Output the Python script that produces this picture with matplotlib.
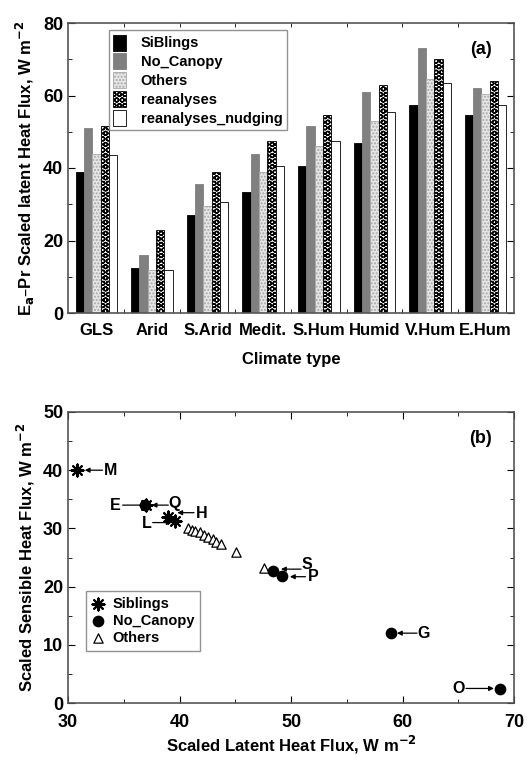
import matplotlib
matplotlib.use("Agg")
import matplotlib.pyplot as plt
import numpy as np

plt.rcParams['font.family'] = ['Liberation Sans', 'DejaVu Sans']
plt.rcParams['font.weight'] = 'bold'
plt.rcParams['hatch.linewidth'] = 1.0

# ---------------- Panel (a) data ----------------
climates = ["GLS", "Arid", "S.Arid", "Medit.", "S.Hum", "Humid", "V.Hum", "E.Hum"]
siblings = [39, 12.5, 27, 33.5, 40.5, 47, 57.5, 54.5]
no_canopy = [51, 16, 35.5, 44, 51.5, 61, 73, 62]
others = [44, 12, 29.5, 39, 46, 53, 64.5, 60.5]
reanalyses = [51.5, 23, 39, 47.5, 54.5, 63, 70, 64]
reanalyses_nudging = [43.5, 12, 30.5, 40.5, 47.5, 55.5, 63.5, 57.5]
series_names = ["SiBlings", "No_Canopy", "Others", "reanalyses", "reanalyses_nudging"]

# ---------------- Panel (b) data ----------------
sib_x = [30.8, 37.0, 39.0, 39.6]
sib_y = [40.1, 34.0, 32.0, 31.3]
noc_x = [36.9, 48.4, 49.2, 59.0, 68.7]
noc_y = [34.0, 22.7, 21.8, 12.0, 2.4]
oth_x = [40.8, 41.1, 41.4, 41.8, 42.2, 42.6, 43.0, 43.3, 43.7, 45.1, 47.6]
oth_y = [30.1, 29.8, 29.6, 29.3, 28.9, 28.5, 28.1, 27.7, 27.3, 25.9, 23.2]
# labelled arrows: label, label x, label y, arrow start x, arrow end x, y
lab_names = ["M", "E", "Q", "H", "L", "S", "P", "G", "O"]
lab_tx = [33.8, 34.2, 39.6, 42.0, 37.1, 51.4, 52.0, 61.9, 65.0]
lab_ty = [40.0, 34.0, 34.2, 32.6, 30.8, 23.8, 21.7, 12.0, 2.5]
arr_x0 = [33.1, 34.9, 39.0, 41.3, 37.6, 50.9, 51.3, 61.3, 65.7]
arr_x1 = [31.5, 37.2, 37.5, 39.8, 39.3, 49.1, 49.9, 59.5, 68.2]
arr_y = [40.0, 34.0, 34.0, 32.7, 31.0, 23.0, 21.7, 12.0, 2.5]

W, H = 527, 757
fig = plt.figure(figsize=(W / 100, H / 100), dpi=100)

spine_col = '#555555'

# ---------------- Panel (a) ----------------
ax = fig.add_axes([68 / W, 1 - 313 / H, 446 / W, 290 / H])
x = np.arange(len(climates))
bw = 0.15
styles = [
    dict(color='black', edgecolor='black'),
    dict(color='#808080', edgecolor='#808080'),
    dict(facecolor='#e6e6e6', edgecolor='#a8a8a8', hatch='.....'),
    dict(facecolor='white', edgecolor='black', hatch='OOO'),
    dict(facecolor='white', edgecolor='black'),
]
vals = [siblings, no_canopy, others, reanalyses, reanalyses_nudging]
for k, (v, st, nm) in enumerate(zip(vals, styles, series_names)):
    ax.bar(x + (k - 2) * bw, v, width=bw, linewidth=0.6, label=nm, **st)
ax.set_xlim(-0.51, 7.51)
ax.set_ylim(0, 80)
ax.set_xticks(x)
ax.set_xticklabels(climates, fontsize=12, fontweight='bold')
ax.set_xticks(x[:-1] + 0.5, minor=True)
ax.set_yticks([0, 20, 40, 60, 80])
ax.set_yticks([10, 30, 50, 70], minor=True)
ax.tick_params(axis='y', which='major', labelsize=13, direction='in', length=5, right=True)
ax.tick_params(axis='y', which='minor', direction='in', length=3, right=True)
ax.tick_params(axis='x', which='major', length=0, pad=7)
ax.tick_params(axis='x', which='minor', direction='in', length=3, top=True)
for s in ax.spines.values():
    s.set_color(spine_col)
    s.set_linewidth(1.2)
ax.set_xlabel("Climate type", fontsize=12, fontweight='bold', labelpad=10)
ax.set_ylabel("E$_\\mathbf{a}$\u2013Pr Scaled latent Heat Flux, W m$^{\\mathbf{-2}}$",
              fontsize=12, fontweight='bold', labelpad=4)
ax.text(0.925, 0.91, "(a)", transform=ax.transAxes, fontsize=13, fontweight='bold',
        ha='center', va='center')
leg = ax.legend(loc='upper left', bbox_to_anchor=(0.075, 1.0), fontsize=10.5,
                frameon=True, fancybox=False, handlelength=0.9, handleheight=1.3,
                labelspacing=0.2, borderpad=0.3, handletextpad=1.0)
leg.get_frame().set_edgecolor('#777777')
leg.get_frame().set_linewidth(1.0)
for t in leg.get_texts():
    t.set_fontweight('bold')

# ---------------- Panel (b) ----------------
bx = fig.add_axes([68 / W, 1 - 703 / H, 446 / W, 291 / H])
bx.set_xlim(30, 70)
bx.set_ylim(0, 50)
for lx, ly, x0, x1, yy, nm in zip(lab_tx, lab_ty, arr_x0, arr_x1, arr_y, lab_names):
    bx.annotate("", xy=(x1, yy), xytext=(x0, yy),
                arrowprops=dict(arrowstyle='-|>', color='black', lw=0.9,
                                mutation_scale=7, shrinkA=0, shrinkB=0))
    bx.text(lx, ly, nm, fontsize=11.5, fontweight='bold', ha='center', va='center')
bx.scatter(oth_x, oth_y, marker='^', s=45, facecolors='white', edgecolors='black',
           linewidths=0.9, label='Others', zorder=3)
bx.scatter(noc_x, noc_y, marker='o', s=55, color='black', label='No_Canopy', zorder=4)
bx.scatter(sib_x, sib_y, marker=(8, 2, 0), s=75, color='black', linewidths=1.5,
           label='Siblings', zorder=5)
bx.set_xticks([30, 40, 50, 60, 70])
bx.set_xticks([35, 45, 55, 65], minor=True)
bx.set_yticks([0, 10, 20, 30, 40, 50])
bx.set_yticks([5, 15, 25, 35, 45], minor=True)
bx.tick_params(which='major', labelsize=13, direction='in', length=5, top=True, right=True)
bx.tick_params(axis='x', which='major', pad=8)
bx.tick_params(which='minor', direction='in', length=3, top=True, right=True)
for s in bx.spines.values():
    s.set_color(spine_col)
    s.set_linewidth(1.2)
bx.set_xlabel("Scaled Latent Heat Flux, W m$^{\\mathbf{-2}}$", fontsize=12, fontweight='bold',
              labelpad=2)
bx.set_ylabel("Scaled Sensible Heat Flux, W m$^{\\mathbf{-2}}$", fontsize=12, fontweight='bold',
              labelpad=4)
bx.text(0.925, 0.91, "(b)", transform=bx.transAxes, fontsize=13, fontweight='bold',
        ha='center', va='center')
h, l = bx.get_legend_handles_labels()
order = [2, 1, 0]
leg2 = bx.legend([h[i] for i in order], [l[i] for i in order], loc='lower left',
                 bbox_to_anchor=(0.025, 0.155), fontsize=10.5, frameon=True,
                 fancybox=False, handlelength=0.8, labelspacing=0.2, borderpad=0.4,
                 handletextpad=0.6)
leg2.get_frame().set_edgecolor('#777777')
for t in leg2.get_texts():
    t.set_fontweight('bold')

for tl in ax.get_yticklabels() + bx.get_xticklabels() + bx.get_yticklabels():
    tl.set_fontweight('bold')

fig.savefig("out.png", dpi=100)
